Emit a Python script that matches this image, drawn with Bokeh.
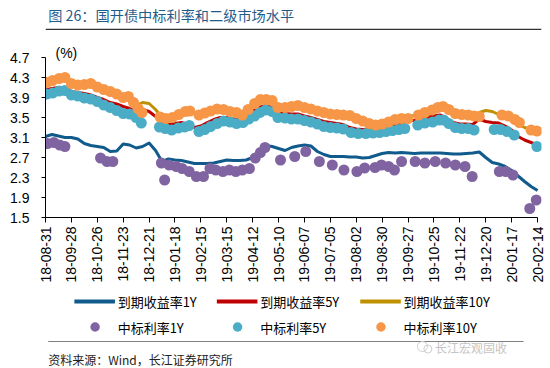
import numpy as np
import pandas as pd
from bokeh.plotting import figure
from bokeh.layouts import column
from bokeh.models import Range1d, FixedTicker, Label
from bokeh.core.properties import value
from bokeh.embed import file_html
from bokeh.resources import INLINE

START = pd.Timestamp("2018-08-31")
LAST = pd.Timestamp("2020-02-14")
END = pd.Timestamp("2020-02-18 07:00")

x_tick_dates = ["2018-08-31", "2018-09-28", "2018-10-26", "2018-11-23", "2018-12-21",
                "2019-01-18", "2019-02-15", "2019-03-15", "2019-04-12", "2019-05-10",
                "2019-06-07", "2019-07-05", "2019-08-02", "2019-08-30", "2019-09-27",
                "2019-10-25", "2019-11-22", "2019-12-20", "2020-01-17", "2020-02-14"]
x_tick_labels = ["18-08-31", "18-09-28", "18-10-26", "18-11-23", "18-12-21",
                 "19-01-18", "19-02-15", "19-03-15", "19-04-12", "19-05-10",
                 "19-06-07", "19-07-05", "19-08-02", "19-08-30", "19-09-27",
                 "19-10-25", "19-11-22", "19-12-20", "20-01-17", "20-02-14"]
y_ticks = [1.5, 1.9, 2.3, 2.7, 3.1, 3.5, 3.9, 4.3, 4.7]

# weekly secondary-market yields (week index from 2018-08-31)
yield_weeks = list(range(77))
yield_1y = [3.12, 3.16, 3.13, 3.10, 3.10, 3.07, 2.98, 2.94, 2.92, 2.90,
            2.82, 2.83, 2.97, 2.95, 2.89, 2.92, 2.99, 2.84, 2.62, 2.67,
            2.65, 2.64, 2.61, 2.58, 2.58, 2.58, 2.59, 2.62, 2.65, 2.64,
            2.64, 2.65, 2.70, 2.85, 2.94, 2.92, 2.88, 2.84, 2.90, 2.93,
            2.95, 2.93, 2.82, 2.76, 2.72, 2.72, 2.72, 2.71, 2.71, 2.69,
            2.70, 2.74, 2.78, 2.80, 2.79, 2.80, 2.79, 2.78, 2.79, 2.79,
            2.79, 2.79, 2.78, 2.77, 2.77, 2.78, 2.79, 2.81, 2.70, 2.60,
            2.57, 2.52, 2.44, 2.33, 2.22, 2.12, 2.04]
yield_5y = [4.05, 4.08, 4.10, 4.10, 4.02, 4.00, 3.98, 3.95, 3.90, 3.86,
            3.80, 3.77, 3.72, 3.68, 3.62, 3.66, 3.62, 3.52, 3.40, 3.36,
            3.38, 3.40, 3.36, 3.30, 3.33, 3.40, 3.46, 3.50, 3.50, 3.47,
            3.47, 3.55, 3.63, 3.70, 3.74, 3.70, 3.58, 3.58, 3.57, 3.57,
            3.53, 3.50, 3.46, 3.42, 3.40, 3.38, 3.36, 3.30, 3.27, 3.26,
            3.27, 3.28, 3.30, 3.33, 3.36, 3.39, 3.44, 3.44, 3.48, 3.50,
            3.54, 3.55, 3.48, 3.40, 3.37, 3.37, 3.36, 3.47, 3.42, 3.40,
            3.39, 3.33, 3.25, 3.12, 3.05, 3.00, 2.95]
yield_10y = [4.20, 4.24, 4.28, 4.30, 4.20, 4.16, 4.16, 4.17, 4.12, 4.06,
             4.02, 3.97, 3.91, 3.88, 3.74, 3.80, 3.78, 3.66, 3.50, 3.49,
             3.54, 3.60, 3.63, 3.58, 3.57, 3.62, 3.66, 3.67, 3.63, 3.61,
             3.57, 3.63, 3.75, 3.84, 3.87, 3.84, 3.72, 3.70, 3.72, 3.73,
             3.70, 3.67, 3.63, 3.60, 3.57, 3.56, 3.55, 3.53, 3.48, 3.42,
             3.38, 3.36, 3.37, 3.41, 3.46, 3.48, 3.52, 3.54, 3.60, 3.64,
             3.69, 3.72, 3.66, 3.59, 3.56, 3.55, 3.54, 3.60, 3.64, 3.62,
             3.56, 3.53, 3.46, 3.36, 3.30, 3.26, 3.23]

# auction (bid) rates
bid1y_weeks = [0.3, 1.3, 2.2, 3.0, 8.5, 9.5, 10.4, 17.9, 18.4, 19.1,
               20.2, 21.1, 22.2, 23.3, 24.4, 25.4, 26.3, 27.4, 28.4, 29.4,
               30.4, 31.5, 32.4, 33.2, 33.9, 36.3, 38.5, 40.2, 42.3, 44.3,
               46.1, 48.1, 49.3, 50.9, 51.9, 53.0, 53.9, 55.0, 57.1, 58.6,
               60.2, 61.8, 63.3, 64.8, 65.9, 70.1, 71.1, 72.2, 74.8, 75.8]
bid1y = [2.98, 3.00, 2.95, 2.92, 2.69, 2.62, 2.62, 2.59, 2.25, 2.55,
         2.52, 2.48, 2.42, 2.32, 2.32, 2.48, 2.45, 2.42, 2.45, 2.42,
         2.45, 2.48, 2.69, 2.80, 2.90, 2.65, 2.72, 2.82, 2.62, 2.55,
         2.45, 2.42, 2.49, 2.50, 2.55, 2.52, 2.45, 2.62, 2.62, 2.59,
         2.62, 2.59, 2.55, 2.52, 2.32, 2.42, 2.42, 2.35, 1.68, 1.85]
bid5y_weeks = [0.2, 1.1, 2.1, 3.0, 4.0, 5.0, 6.0, 7.0, 8.0, 9.0,
               10.0, 11.0, 12.0, 13.0, 14.0, 14.8, 17.6, 18.5, 19.5, 20.5,
               21.5, 22.2, 23.7, 24.6, 25.5, 26.5, 27.5, 28.5, 29.5, 30.5,
               31.4, 32.3, 33.1, 34.0, 35.0, 35.9, 37.0, 38.0, 39.0, 40.0,
               41.0, 42.0, 43.0, 44.0, 45.0, 46.0, 47.2, 48.3, 49.5, 50.6,
               51.6, 52.6, 53.6, 54.6, 55.5, 57.5, 58.6, 59.8, 60.8, 61.5,
               62.3, 63.3, 64.3, 65.3, 66.2, 69.3, 70.3, 71.3, 72.4, 75.9]
bid5y = [3.97, 3.99, 4.03, 4.04, 3.95, 3.93, 3.89, 3.87, 3.82, 3.75,
         3.70, 3.64, 3.58, 3.57, 3.50, 3.39, 3.31, 3.28, 3.25, 3.29,
         3.31, 3.34, 3.22, 3.26, 3.32, 3.38, 3.43, 3.41, 3.38, 3.40,
         3.47, 3.53, 3.60, 3.65, 3.62, 3.50, 3.49, 3.47, 3.47, 3.44,
         3.41, 3.37, 3.32, 3.30, 3.29, 3.27, 3.20, 3.18, 3.18, 3.19,
         3.20, 3.22, 3.24, 3.26, 3.28, 3.35, 3.39, 3.41, 3.45, 3.45,
         3.38, 3.30, 3.28, 3.28, 3.25, 3.26, 3.26, 3.22, 3.15, 2.92]
bid10y_weeks = [0.2, 1.1, 2.1, 3.0, 4.0, 5.0, 6.0, 7.0, 8.0, 9.0,
                10.0, 11.0, 12.0, 12.8, 13.6, 14.3, 14.9, 17.7, 18.6, 19.6,
                20.6, 21.6, 22.3, 23.7, 24.6, 25.5, 26.5, 27.5, 28.5, 29.5,
                30.4, 31.3, 32.3, 33.2, 34.1, 35.0, 35.9, 37.0, 38.0, 39.0,
                40.0, 41.0, 42.0, 43.0, 44.0, 45.0, 46.0, 47.0, 48.0, 49.0,
                50.0, 51.0, 52.0, 53.0, 54.0, 55.0, 56.0, 57.6, 58.6, 59.7,
                60.6, 61.4, 62.3, 63.3, 64.3, 65.3, 66.2, 67.0, 70.5, 71.5,
                72.5, 73.2, 75.0, 75.9]
bid10y = [4.20, 4.24, 4.28, 4.30, 4.18, 4.15, 4.16, 4.18, 4.11, 4.06,
          4.02, 3.97, 3.90, 3.92, 3.80, 3.68, 3.60, 3.51, 3.48, 3.50,
          3.56, 3.62, 3.63, 3.55, 3.59, 3.63, 3.67, 3.66, 3.62, 3.60,
          3.55, 3.66, 3.78, 3.86, 3.86, 3.84, 3.70, 3.70, 3.72, 3.74,
          3.70, 3.67, 3.63, 3.60, 3.57, 3.56, 3.55, 3.54, 3.48, 3.43,
          3.38, 3.35, 3.37, 3.41, 3.46, 3.48, 3.48, 3.55, 3.60, 3.65,
          3.70, 3.72, 3.66, 3.58, 3.56, 3.55, 3.53, 3.52, 3.55, 3.53,
          3.46, 3.40, 3.25, 3.23]

line_names = ["到期收益率1Y", "到期收益率5Y", "到期收益率10Y"]
dot_names = ["中标利率1Y", "中标利率5Y", "中标利率10Y"]
TITLE = "图 26：国开债中标利率和二级市场水平"
SOURCE = "资料来源：Wind，长江证券研究所"
WATERMARK = "长江宏观固收"
line_colors = ["#115A8C", "#C00000", "#BF9000"]
dot_colors = ["#8064A2", "#4BACC6", "#F79646"]

CJK = "Noto Sans CJK SC"
W = 550


def to_dates(weeks):
    return (START + pd.to_timedelta(np.asarray(weeks, dtype=float) * 7, unit="D")).to_numpy()


def blank(height):
    f = figure(width=W, height=height, x_range=Range1d(0, W), y_range=Range1d(height, 0),
               x_axis_location=None, y_axis_location=None, title=None,
               output_backend="svg", toolbar_location=None,
               min_border=0, min_border_left=0, min_border_right=0,
               min_border_top=0, min_border_bottom=0)
    f.outline_line_color = None
    f.xgrid.visible = False
    f.ygrid.visible = False
    return f


# ---------- header ----------
HH = 30
head = blank(HH)
head.text(x=[3], y=[14.5], text=[TITLE], text_font=value(CJK),
          text_font_size=value("14.2px"), text_color="#1F5C8B", text_baseline="middle")
head.segment(x0=[0], y0=[29], x1=[W], y1=[29], line_color="#333333", line_width=1.5)

# ---------- main chart ----------
MH = 260               # canvas rows 30 .. 290
FL, FR = 45, 541
FT, FB = 12, 187       # frame (y 5.0 .. 1.5) inside this figure
p = figure(width=W, height=MH, x_axis_type="datetime", title=None,
           x_range=Range1d(START, END), y_range=Range1d(1.5, 5.0),
           output_backend="svg", toolbar_location=None,
           min_border_left=FL, min_border_right=W - FR,
           min_border_top=FT, min_border_bottom=MH - FB)
p.outline_line_color = None
p.xgrid.visible = False
p.ygrid.visible = False

tick_ms = [float(pd.Timestamp(d).value // 10**6) for d in x_tick_dates]
p.xaxis.ticker = FixedTicker(ticks=tick_ms)
p.xaxis.major_label_overrides = {t: l for t, l in zip(tick_ms, x_tick_labels)}
p.xaxis.major_label_orientation = np.pi / 2
p.xaxis.bounds = (START, LAST)
p.xaxis.major_tick_out = 5
p.xaxis.major_label_standoff = 4
p.yaxis.ticker = FixedTicker(ticks=y_ticks)
p.yaxis.bounds = (1.5, 4.7)
p.yaxis.major_tick_out = 4
p.yaxis.major_label_standoff = 12
for ax in (p.xaxis, p.yaxis):
    ax.major_tick_in = 0
    ax.minor_tick_out = 0
    ax.minor_tick_in = 0
    ax.axis_line_color = "#000000"
    ax.major_tick_line_color = "#000000"
    ax.major_label_text_font = "Liberation Sans"
    ax.major_label_text_font_size = "14px"
    ax.major_label_text_color = "#000000"

yd = to_dates(yield_weeks)
for ys, c in zip([yield_1y, yield_5y, yield_10y], line_colors):
    p.line(yd, ys, line_color=c, line_width=3, line_join="round")
for wk, ys, c in zip([bid1y_weeks, bid5y_weeks, bid10y_weeks], [bid1y, bid5y, bid10y], dot_colors):
    p.scatter(to_dates(wk), ys, size=11, fill_color=c, line_color=None)

p.add_layout(Label(x=55 - FL, y=FB - 22, x_units="screen", y_units="screen",
                   text="(%)", text_font="Liberation Sans", text_font_size="14px",
                   text_color="#000000", text_baseline="middle"))

# ---------- footer: legend and source ----------
FH = 78                # canvas rows 290 .. 368
foot = blank(FH)
item_x = [32, 190, 349]
row1_y, row2_y = 11, 36.5
foot.segment(x0=item_x, y0=[row1_y] * 3, x1=[x + 45 for x in item_x], y1=[row1_y] * 3,
             line_color=line_colors, line_width=4)
foot.text(x=[x + 48 for x in item_x], y=[row1_y] * 3, text=line_names,
          text_font=value(CJK), text_font_size=value("13px"), text_color="#000000",
          text_baseline="middle")
foot.scatter(x=[x + 23 for x in item_x], y=[row2_y] * 3, size=9.5,
             fill_color=dot_colors, line_color=None)
foot.text(x=[x + 48 for x in item_x], y=[row2_y] * 3, text=dot_names,
          text_font=value(CJK), text_font_size=value("13px"), text_color="#000000",
          text_baseline="middle")
foot.segment(x0=[3], y0=[51], x1=[530], y1=[51], line_color="#808080", line_width=1.2)
foot.scatter(x=[418, 424], y=[56, 58.5], size=[10, 8], fill_color=None,
             line_color="#cfcfcf", line_width=1)
foot.text(x=[432], y=[57], text=[WATERMARK], text_font=value(CJK),
          text_font_size=value("12px"), text_color="#c4c4c4", text_baseline="middle")
foot.text(x=[3], y=[69], text=[SOURCE], text_font=value(CJK),
          text_font_size=value("12px"), text_color="#222222", text_baseline="middle")

layout = column(head, p, foot, spacing=0)
open("out.html", "w").write(file_html(layout, INLINE))
